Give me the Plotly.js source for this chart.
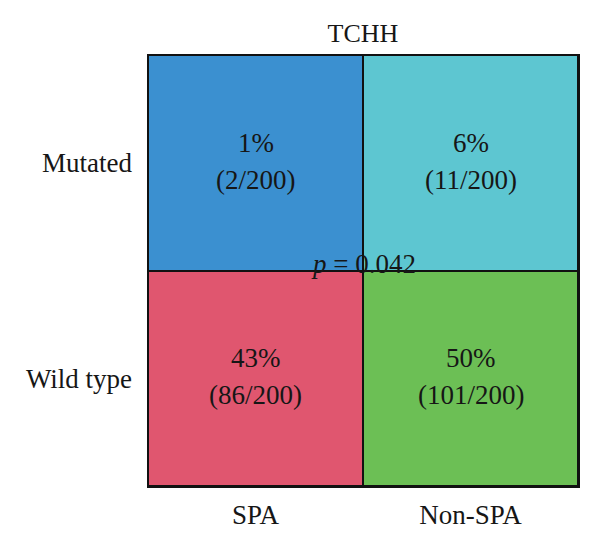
<!DOCTYPE html>
<html><head><meta charset="utf-8">
<script src="https://cdn.plot.ly/plotly-3.0.1.min.js"></script>
<style>body{margin:0;background:#fff}</style>
</head><body><div id="chart" style="width:600px;height:542px"></div>
<script>
const columns = ["SPA", "Non-SPA"];
const rows = ["Wild type", "Mutated"];           // bottom to top
const percents = [["43%", "50%"], ["1%", "6%"]];
const counts = [["(86/200)", "(101/200)"], ["(2/200)", "(11/200)"]];
const cellIndex = [[2, 3], [0, 1]];
const cellColors = ["#3b90d0", "#5dc6d1", "#e0566f", "#6cbf55"];
const pValueText = "<i>p</i> = 0.042";
const titleText = "TCHH";

const FONT = "Liberation Serif, Times New Roman, serif";
const FS = 27;
const colorscale = cellColors.map((c, i) => [i / (cellColors.length - 1), c]);

const trace = {
  type: "heatmap",
  x: columns, y: rows, z: cellIndex,
  zmin: 0, zmax: 3,
  colorscale: colorscale, showscale: false,
  xgap: 2, ygap: 2, hoverinfo: "skip"
};

const annotations = [];
rows.forEach((r, i) => columns.forEach((c, j) => {
  annotations.push({x: c, y: r, xref: "x", yref: "y", text: percents[i][j], showarrow: false, yshift: 20, font: {family: FONT, size: FS, color: "#161616"}});
  annotations.push({x: c, y: r, xref: "x", yref: "y", text: counts[i][j], showarrow: false, yshift: -17, font: {family: FONT, size: FS, color: "#161616"}});
}));
annotations.push({x: 0.5, y: 0.5, xref: "paper", yref: "paper", text: pValueText, showarrow: false, yshift: 7, font: {family: FONT, size: FS, color: "#161616"}});

const layout = {
  width: 600, height: 542,
  margin: {l: 148, r: 22, t: 55, b: 56},
  paper_bgcolor: "#fff", plot_bgcolor: "#111",
  title: {text: titleText, x: 0.5, xref: "paper", xanchor: "center", y: 1 - 33/542, yref: "container", yanchor: "middle", font: {family: FONT, size: 26, color: "#161616"}},
  xaxis: {type: "category", showgrid: false, zeroline: false, showline: true, mirror: true, linecolor: "#111", linewidth: 1.5, ticks: "", ticklabelstandoff: 4, tickfont: {family: FONT, size: FS, color: "#161616"}, fixedrange: true},
  yaxis: {type: "category", showgrid: false, zeroline: false, showline: true, mirror: true, linecolor: "#111", linewidth: 1.5, ticks: "", ticklabelstandoff: 9, tickfont: {family: FONT, size: FS, color: "#161616"}, fixedrange: true},
  annotations: annotations,
  showlegend: false
};
Plotly.newPlot("chart", [trace], layout, {displayModeBar: false, staticPlot: true});
</script></body></html>
